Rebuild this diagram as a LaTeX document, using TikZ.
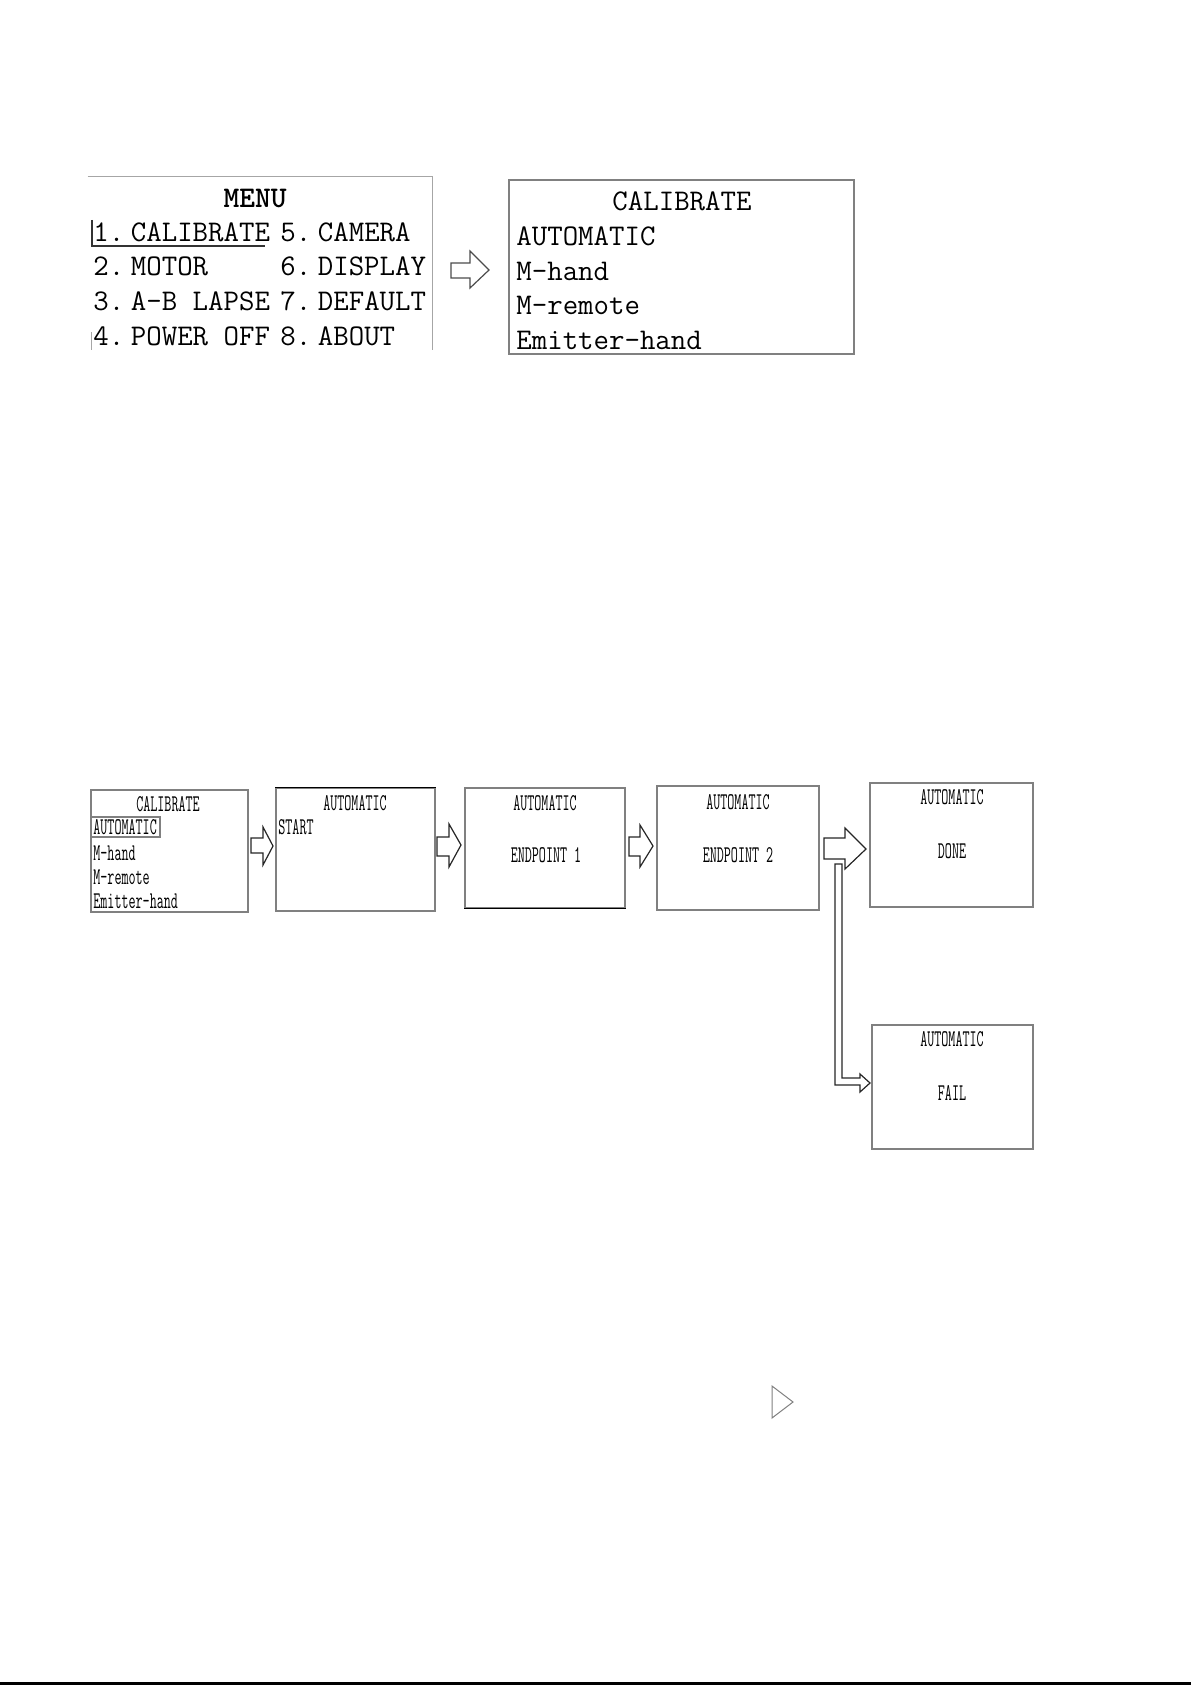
\documentclass[tikz,border=0pt]{standalone}
\usepackage{graphicx}
\newcommand\sqz[1]{\scalebox{0.57}[1]{#1}}
\newcommand\nsp{\hspace{-7pt}}
\begin{document}
\begin{tikzpicture}[x=0.5pt,y=-0.5pt,
  frame/.style={draw=gray,line width=0.6pt,inner sep=0pt,rectangle},
  tb/.style={inner sep=0pt,font=\fontsize{15}{15}\selectfont\ttfamily},
  ts/.style={inner sep=0pt,font=\fontsize{12}{12}\selectfont\ttfamily},
  blockarrow/.style={draw=black!85,line width=0.6pt,line join=miter,fill=white}]
\useasboundingbox (0,0) rectangle (1191,1685);

% ---------- top section ----------
\node[inner sep=0pt,minimum width=172pt,minimum height=86.5pt] (menu) at (260,263.5) {};
\draw[gray!70,line width=0.6pt] (menu.south west) ++(4,-18) -- ++(0,18);
\draw[gray!70,line width=0.6pt] (menu.north west) -- (menu.north east) -- (menu.south east);
\coordinate (hlA) at (92,220);
\coordinate (hlB) at (92,246);
\coordinate (hlC) at (265,246);
\draw[black!80,line width=0.6pt] (hlA) -- (hlB) -- (hlC);

\node[tb,anchor=base] (tmenu) at (255,208) {\bfseries MENU};
\node[tb,anchor=base west] (m1) at (93,242) {1.\nsp{} CALIBRATE};
\node[tb,anchor=base west] (m5) at (280,242) {5.\nsp{} CAMERA};
\node[tb,anchor=base west] (m2) at (93,276) {2.\nsp{} MOTOR};
\node[tb,anchor=base west] (m6) at (280,276) {6.\nsp{} DISPLAY};
\node[tb,anchor=base west] (m3) at (93,310) {3.\nsp{} A-B LAPSE};
\node[tb,anchor=base west] (m7) at (280,310) {7.\nsp{} DEFAULT};
\node[tb,anchor=base west] (m4) at (93,345) {4.\nsp{} POWER OFF};
\node[tb,anchor=base west] (m8) at (280,345) {8.\nsp{} ABOUT};

\node[frame,minimum width=172.5pt,minimum height=87pt] (cal) at (681.5,267) {};
\node[tb,anchor=base] (c0) at (682,211) {CALIBRATE};
\node[tb,anchor=base west] (c1) at (516,245) {AUTOMATIC};
\node[tb,anchor=base west] (c2) at (516,280) {M-hand};
\node[tb,anchor=base west] (c3) at (516,314) {M-remote};
\node[tb,anchor=base west] (c4) at (516,349) {Emitter-hand};

\draw[blockarrow,draw=black!70] (451,263) -- (470,263) -- (470,251) -- (489,270) -- (470,288) -- (470,278) -- (451,278) -- cycle;

% ---------- bottom section ----------
\node[frame,minimum width=78.5pt,minimum height=61pt] (b1) at (169.5,851) {};
\node[frame,minimum width=79.5pt,minimum height=61.5pt] (b2) at (355.5,849.5) {};
\node[frame,minimum width=80pt,minimum height=60pt] (b3) at (545,848) {};
\node[frame,minimum width=81pt,minimum height=62pt] (b4) at (738,848) {};
\node[frame,minimum width=81.5pt,minimum height=62pt] (b5) at (951.5,845) {};
\node[frame,minimum width=80.5pt,minimum height=62pt] (b6) at (952.5,1087) {};
\draw[black,line width=0.6pt] (b2.north west) -- (b2.north east);
\draw[black,line width=0.6pt] (b3.south west) -- (b3.south east);

\node[frame,minimum width=34.5pt,minimum height=10pt] (hl) at (125.5,827) {};

\node[ts,anchor=base] (b1t) at (168,811) {\sqz{CALIBRATE}};
\node[ts,anchor=base west] (b1a) at (93,834) {\sqz{AUTOMATIC}};
\node[ts,anchor=base west] (b1b) at (93,860) {\sqz{M-hand}};
\node[ts,anchor=base west] (b1c) at (93,884) {\sqz{M-remote}};
\node[ts,anchor=base west] (b1d) at (93,908) {\sqz{Emitter-hand}};

\node[ts,anchor=base] (b2t) at (355,810) {\sqz{AUTOMATIC}};
\node[ts,anchor=base west] (b2s) at (278,834) {\sqz{START}};

\node[ts,anchor=base] (b3t) at (545,810) {\sqz{AUTOMATIC}};
\node[ts,anchor=base] (b3e) at (546,862) {\sqz{ENDPOINT 1}};

\node[ts,anchor=base] (b4t) at (738,809) {\sqz{AUTOMATIC}};
\node[ts,anchor=base] (b4e) at (738,862) {\sqz{ENDPOINT 2}};

\node[ts,anchor=base] (b5t) at (952,804) {\sqz{AUTOMATIC}};
\node[ts,anchor=base] (b5d) at (952,858) {\sqz{DONE}};

\node[ts,anchor=base] (b6t) at (952,1046) {\sqz{AUTOMATIC}};
\node[ts,anchor=base] (b6f) at (952,1100) {\sqz{FAIL}};

\draw[blockarrow] (251,838) -- (263,838) -- (263,827) -- (273,846) -- (263,865) -- (263,853) -- (251,853) -- cycle;
\draw[blockarrow] (437,837) -- (449,837) -- (449,824) -- (461,845) -- (449,867) -- (449,856) -- (437,856) -- cycle;
\draw[blockarrow] (629,837) -- (640,837) -- (640,825) -- (653,846) -- (640,867) -- (640,856) -- (629,856) -- cycle;
\draw[blockarrow] (824,838) -- (845,838) -- (845,828) -- (866,849) -- (845,869) -- (845,859) -- (824,859) -- cycle;
\draw[blockarrow] (835,864) -- (842,864) -- (842,1078) -- (860,1078) -- (860,1074) -- (870,1083) -- (860,1092) -- (860,1085) -- (835,1085) -- cycle;

% stray triangle
\draw[gray,line width=0.5pt] (772,1386) -- (793,1402) -- (772,1418) -- cycle;

% bottom rule
\fill[black] (0,1682) rectangle (1191,1685);
\end{tikzpicture}
\end{document}
